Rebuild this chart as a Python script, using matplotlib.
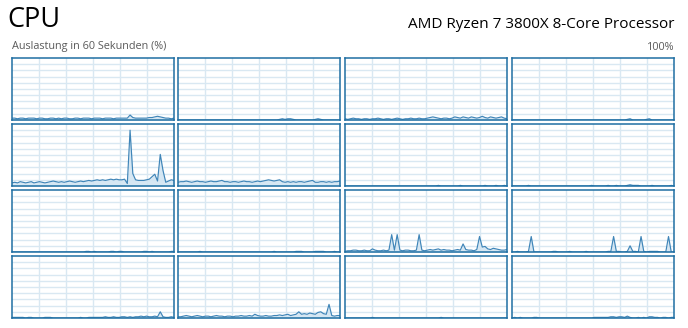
import matplotlib
matplotlib.use("Agg")
import matplotlib.pyplot as plt
import numpy as np

title = "CPU"
processor = "AMD Ryzen 7 3800X 8-Core Processor"
subtitle = "Auslastung in 60 Sekunden (%)"
max_label = "100%"

# 16 logical processors, 60 samples each (% utilisation)
core01 = [3,3,2,3,3,2,3,3,3,2,3,3,2,2,3,3,2,3,2,3,3,2,2,3,3,2,3,3,3,2,3,3,3,2,3,3,3,2,3,3,3,3,3,8,4,3,3,3,3,3,4,4,5,6,5,4,3,3,2,3]
core02 = [0,0,0,0,0,0,0,0,0,0,0,0,0,0,0,0,0,0,0,0,0,0,0,0,0,0,0,0,0,0,0,0,0,0,0,0,0,1,2,1,2,2,1,0,0,0,0,0,0,0,1,2,1,0,0,0,0,0,0,0]
core03 = [2,1,2,3,2,2,1,2,2,1,2,2,3,2,1,2,2,1,2,3,2,1,2,2,3,2,2,3,2,2,3,4,5,4,3,2,3,3,2,3,5,4,3,5,4,3,5,4,3,4,6,4,3,5,4,3,4,5,3,2]
core04 = [0,0,0,0,0,0,0,0,0,0,0,0,0,0,0,0,0,0,0,0,0,0,0,0,0,0,0,0,0,0,0,0,0,0,0,0,0,0,0,0,0,0,1,2,0,0,0,0,0,1,2,0,0,0,0,0,0,0,0,0]
core05 = [5,6,5,7,6,5,6,7,5,6,7,6,5,6,7,8,7,6,7,6,7,8,7,6,7,8,7,8,9,8,9,10,9,10,9,10,11,10,11,10,10,11,4,90,20,10,9,9,9,10,11,15,19,8,51,25,6,8,10,9]
core06 = [6,7,7,8,7,6,7,8,7,7,6,7,8,7,7,8,9,7,7,6,7,7,6,7,8,7,7,6,7,8,7,8,9,10,9,8,9,10,7,6,7,6,7,6,7,7,6,7,8,9,6,6,7,7,6,7,6,7,7,8]
core07 = [0,0,0,0,0,0,0,0,0,0,0,0,0,0,0,0,0,0,0,0,0,0,0,0,0,0,0,0,0,0,0,0,0,0,1,0,0,0,0,0,0,0,1,0,0,0,0,0,0,0,0,1,0,0,0,1,0,0,1,0]
core08 = [0,0,0,0,0,0,1,0,0,0,0,0,0,0,0,0,0,0,0,0,0,0,0,0,0,0,0,0,0,1,0,0,0,0,0,1,0,0,1,0,0,0,1,2,1,1,1,0,0,0,0,1,0,0,0,0,0,0,1,0]
core09 = [0,0,0,0,0,0,0,0,0,0,0,0,0,0,0,0,0,0,0,0,0,0,0,0,0,0,0,1,1,0,1,0,0,0,0,0,1,1,0,1,1,0,0,0,0,0,0,0,1,1,0,1,0,0,0,0,0,0,1,1]
core10 = [0,0,0,0,0,0,0,0,1,0,0,0,0,0,0,0,0,0,0,0,0,0,0,0,0,0,0,0,0,0,0,0,0,0,0,1,0,0,0,0,0,0,0,1,1,1,0,0,0,0,1,1,1,1,0,0,0,1,0,0]
core11 = [1,2,2,3,3,2,2,3,2,2,5,3,2,2,3,2,3,28,3,28,3,2,3,3,2,2,3,28,3,2,3,4,3,4,5,3,4,3,3,2,3,4,3,13,4,3,3,2,4,25,8,9,5,4,6,5,4,3,3,4]
core12 = [0,0,1,0,0,0,1,25,0,0,0,0,0,0,0,1,1,0,0,0,0,1,0,0,0,0,0,1,0,0,0,0,0,0,0,1,1,25,1,1,0,0,1,10,1,1,0,25,1,0,1,1,1,1,0,0,0,25,0,0]
core13 = [1,1,1,1,1,0,1,1,0,0,0,0,1,1,1,0,0,0,0,0,0,0,0,0,0,1,0,0,1,1,1,1,1,1,2,1,1,2,1,1,2,2,1,2,1,2,2,3,2,3,2,2,3,2,10,2,1,1,2,1]
core14 = [2,2,3,4,3,2,3,4,3,2,3,3,2,3,4,3,3,2,3,3,2,3,3,4,3,3,4,3,6,4,3,3,4,3,3,4,4,5,4,5,6,4,5,6,10,6,7,6,8,7,6,9,10,7,6,22,4,3,4,4]
core15 = [0,0,0,0,0,0,0,0,0,0,1,0,0,0,0,0,0,0,0,0,0,0,0,0,0,0,0,0,0,0,0,0,0,0,0,1,0,0,0,0,0,0,0,0,0,0,0,0,0,0,0,0,0,0,0,0,0,0,0,0]
core16 = [0,1,0,1,0,0,0,0,1,1,0,0,0,0,0,0,0,0,0,0,0,0,0,0,0,0,0,0,0,0,1,1,1,1,1,1,2,2,1,2,2,1,3,1,0,0,1,0,1,0,2,2,1,1,0,1,1,0,1,1]

cores = [core01, core02, core03, core04, core05, core06, core07, core08,
         core09, core10, core11, core12, core13, core14, core15, core16]

W, H = 688, 328
fig = plt.figure(figsize=(W / 100, H / 100), dpi=100)
fig.patch.set_facecolor("white")

border_col = "#1F6FA3"
line_col = "#3F85B8"
grid_col = "#D9E8F2"
fill_col = "#D2E5F2"

col_left = [12, 178, 345, 512]
row_top = [58, 124, 190, 256]
pw, ph = 162, 62

for idx, vals in enumerate(cores):
    r, c = divmod(idx, 4)
    x0 = col_left[c]
    y0 = row_top[r]
    ax = fig.add_axes([x0 / W, 1 - (y0 + ph) / H, pw / W, ph / H])
    t = np.arange(len(vals))
    ax.set_xlim(0, len(vals) - 1)
    ax.set_ylim(0, 100)
    ax.set_xticks(np.linspace(0, len(vals) - 1, 7)[1:-1])
    ax.set_yticks(np.arange(10, 100, 10))
    ax.grid(True, color=grid_col, linewidth=1.0)
    ax.tick_params(length=0, labelbottom=False, labelleft=False)
    ax.set_axisbelow(True)
    ax.fill_between(t, vals, 0, color=fill_col, alpha=0.9, linewidth=0)
    ax.plot(t, vals, color=line_col, linewidth=0.85)
    for s in ax.spines.values():
        s.set_color(border_col)
        s.set_linewidth(1.1)

fig.text(7 / W, 1 - 20 / H, title, fontsize=19.5, family="Open Sans",
         va="center", ha="left", color="black")
fig.text(674 / W, 1 - 25 / H, processor, fontsize=11, family="Open Sans",
         va="center", ha="right", color="black")
fig.text(12 / W, 1 - 47 / H, subtitle, fontsize=7.8, family="Open Sans",
         va="center", ha="left", color="#5A5A5A")
fig.text(674 / W, 1 - 47 / H, max_label, fontsize=7.8, family="Open Sans",
         va="center", ha="right", color="#5A5A5A")

fig.savefig("out.png", dpi=100, facecolor="white")
